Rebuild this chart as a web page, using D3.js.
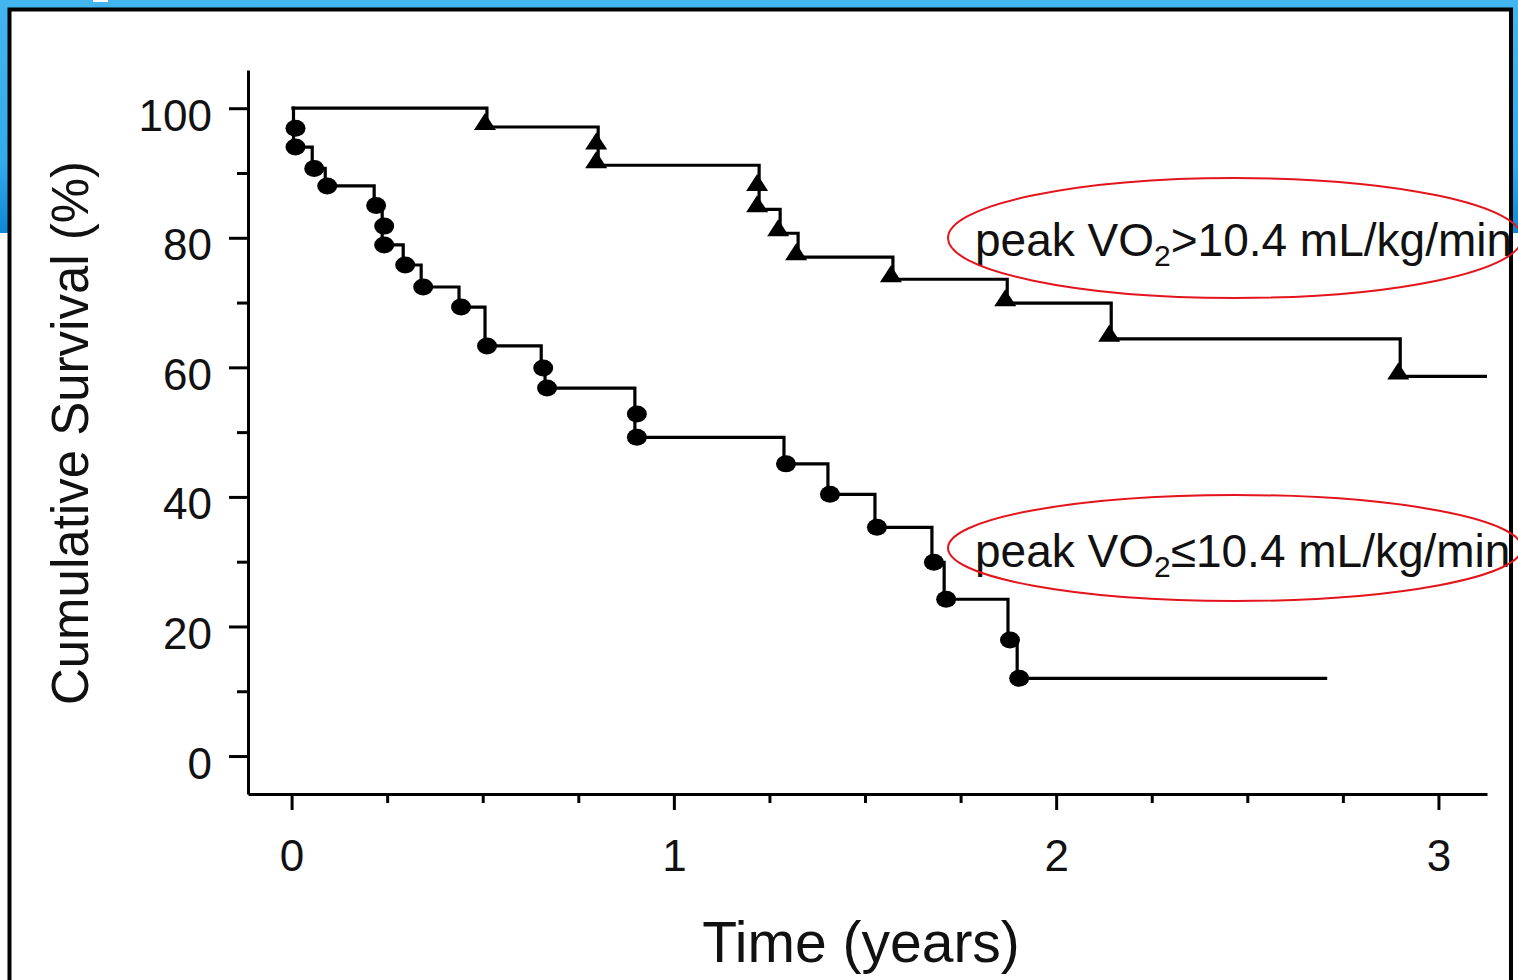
<!DOCTYPE html>
<html>
<head>
<meta charset="utf-8">
<script src="https://cdn.jsdelivr.net/npm/d3@7"></script>
<style>
  html, body { margin: 0; padding: 0; background: #fff; }
  svg { display: block; font-family: "Liberation Sans", Arial, Helvetica, sans-serif; }
</style>
</head>
<body>
<svg width="1518" height="980"></svg>
<script>
// peak VO2 > 10.4 (triangles)
var highTimes = [0, 0.511, 0.802, 0.802, 1.223, 1.223, 1.278, 1.325, 1.573, 1.872, 2.144, 2.900];
var highSurv  = [100, 97.1, 94.1, 91.2, 87.7, 84.4, 80.7, 77.0, 73.6, 69.9, 64.4, 58.6];
var highEnd = 3.127;

// peak VO2 <= 10.4 (circles)
var lowTimes = [0, 0.005, 0.005, 0.054, 0.088, 0.216, 0.237, 0.237, 0.292, 0.339, 0.438, 0.506,
                0.653, 0.663, 0.898, 0.898, 1.288, 1.403, 1.526, 1.675, 1.707, 1.874, 1.898];
var lowSurv  = [100, 96.9, 94.0, 90.7, 88.0, 85.0, 81.8, 78.9, 75.8, 72.4, 69.3, 63.3,
                59.9, 56.8, 52.8, 49.2, 45.1, 40.4, 35.3, 29.9, 24.2, 17.9, 12.0];
var lowEnd = 2.709;

var xMajor = [0, 1, 2, 3];
var xMinor = [0.25, 0.5, 0.75, 1.25, 1.5, 1.75, 2.25, 2.5, 2.75];
var yMajor = [0, 20, 40, 60, 80, 100];
var yMinor = [10, 30, 50, 70, 90];

var labelHigh = ["peak VO", "2", ">10.4 mL/kg/min"];
var labelLow  = ["peak VO", "2", "\u226410.4 mL/kg/min"];

var svg = d3.select("svg");
var defs = svg.append("defs");

// slide background
var grad = defs.append("linearGradient").attr("id", "blue").attr("x1", 0).attr("y1", 0).attr("x2", 0).attr("y2", 1);
grad.append("stop").attr("offset", 0).attr("stop-color", "#43b5ef");
grad.append("stop").attr("offset", 0.7).attr("stop-color", "#34aaec");
grad.append("stop").attr("offset", 1).attr("stop-color", "#0d87d5");

svg.append("rect").attr("x", 0).attr("y", 0).attr("width", 1518).attr("height", 233).attr("fill", "url(#blue)");
svg.append("rect").attr("x", 93).attr("y", 0).attr("width", 15).attr("height", 2).attr("fill", "#fff");

// white panel
svg.append("rect")
    .attr("x", 9.5).attr("y", 9.5)
    .attr("width", 1501.5).attr("height", 1000)
    .attr("fill", "#fff");

defs.append("clipPath").attr("id", "panelClip")
    .append("rect").attr("x", 9.5).attr("y", 9.5).attr("width", 1501.5).attr("height", 1000);

var x = d3.scaleLinear().domain([-0.114, 3.127]).range([248, 1487]);
var y = d3.scaleLinear().domain([-5.86, 105.9]).range([794, 70]);

// axes
svg.append("g").attr("transform", "translate(0,794)")
    .call(d3.axisBottom(x).tickValues(xMajor).tickSize(16).tickSizeOuter(0).tickPadding(30).tickFormat(d3.format("d")));
svg.append("g").attr("transform", "translate(0,794)")
    .call(d3.axisBottom(x).tickValues(xMinor).tickSize(9).tickFormat(""))
    .call(g => g.select(".domain").remove());

var gy = svg.append("g").attr("transform", "translate(248,0)")
    .call(d3.axisLeft(y).tickValues(yMajor).tickSize(19).tickSizeOuter(0).tickPadding(17).tickFormat(d3.format("d")));
gy.selectAll("text").attr("dy", "0.5em");
svg.append("g").attr("transform", "translate(248,0)")
    .call(d3.axisLeft(y).tickValues(yMinor).tickSize(11).tickFormat(""))
    .call(g => g.select(".domain").remove());

svg.selectAll(".domain, .tick line").attr("stroke", "#000").attr("stroke-width", 3);
svg.selectAll(".tick text").attr("fill", "#111").style("font-size", "44px")
    .style("font-family", "'Liberation Sans', Arial, sans-serif");

// axis titles
svg.append("text")
    .attr("x", 861).attr("y", 962)
    .attr("text-anchor", "middle")
    .attr("fill", "#111")
    .style("font-size", "57px")
    .text("Time (years)");

svg.append("text")
    .attr("transform", "translate(88,433) rotate(-90)")
    .attr("text-anchor", "middle")
    .attr("fill", "#111")
    .style("font-size", "51px")
    .text("Cumulative Survival (%)");

// survival curves
var line = d3.line()
    .x(d => x(d[0]))
    .y(d => y(d[1]))
    .curve(d3.curveStepAfter);

function curvePoints(times, surv, end) {
    var pts = times.map((t, i) => [t, surv[i]]);
    pts.push([end, surv[surv.length - 1]]);
    return pts;
}

var plot = svg.append("g");

plot.append("path")
    .datum(curvePoints(highTimes, highSurv, highEnd))
    .attr("d", line)
    .attr("fill", "none")
    .attr("stroke", "#000")
    .attr("stroke-width", 3.2);

plot.append("path")
    .datum(curvePoints(lowTimes, lowSurv, lowEnd))
    .attr("d", line)
    .attr("fill", "none")
    .attr("stroke", "#000")
    .attr("stroke-width", 3.2);

var highEvents = highTimes.map((t, i) => [t, highSurv[i]]).slice(1);
var lowEvents = lowTimes.map((t, i) => [t, lowSurv[i]]).slice(1);

plot.selectAll(".tri")
    .data(highEvents)
    .enter().append("path")
    .attr("class", "tri")
    .attr("d", d => {
        var cx = x(d[0]) - 2, cy = y(d[1]);
        return "M" + (cx - 11) + "," + (cy + 3) + "L" + (cx + 11) + "," + (cy + 3) + "L" + cx + "," + (cy - 14) + "Z";
    })
    .attr("fill", "#000");

plot.selectAll(".dot")
    .data(lowEvents)
    .enter().append("ellipse")
    .attr("class", "dot")
    .attr("cx", d => x(d[0]) + 2)
    .attr("cy", d => y(d[1]))
    .attr("rx", 10)
    .attr("ry", 8.5)
    .attr("fill", "#000");

// group labels
function addLabel(parts, baseline) {
    var t = svg.append("text")
        .attr("clip-path", "url(#panelClip)")
        .attr("x", 975).attr("y", baseline)
        .attr("fill", "#111")
        .style("font-size", "46px");
    t.append("tspan").text(parts[0]);
    t.append("tspan").attr("dy", 10).style("font-size", "30px").text(parts[1]);
    t.append("tspan").attr("dy", -10).text(parts[2]);
}
addLabel(labelHigh, 256);
addLabel(labelLow, 567);

// panel border over everything
svg.append("rect")
    .attr("x", 9.5).attr("y", 9.5)
    .attr("width", 1501.5).attr("height", 1000)
    .attr("fill", "none")
    .attr("stroke", "#000")
    .attr("stroke-width", 4);

// red highlight ellipses
svg.append("ellipse")
    .attr("cx", 1235).attr("cy", 238).attr("rx", 287).attr("ry", 60)
    .attr("fill", "none").attr("stroke", "#e3141c").attr("stroke-width", 2);
svg.append("ellipse")
    .attr("cx", 1235).attr("cy", 548).attr("rx", 287).attr("ry", 53)
    .attr("fill", "none").attr("stroke", "#e3141c").attr("stroke-width", 2);
</script>
</body>
</html>
